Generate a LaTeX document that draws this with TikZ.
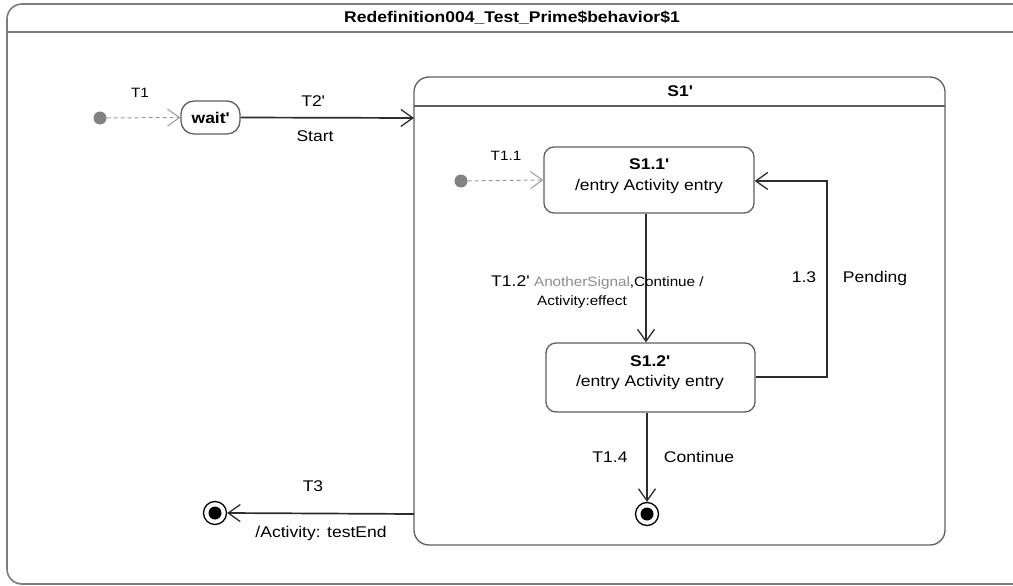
\documentclass[tikz,border=0pt]{standalone}
\usepackage{fontspec}
\setmainfont{Liberation Sans}[FakeStretch=1.13]
\usetikzlibrary{arrows.meta}
\definecolor{framec}{RGB}{125,125,125}
\definecolor{statec}{RGB}{95,95,95}
\definecolor{linec}{RGB}{45,45,45}
\definecolor{dashc}{RGB}{155,155,155}
\definecolor{dotc}{RGB}{130,130,130}
\definecolor{sigc}{RGB}{140,140,140}
\newcommand{\q}{\textquotesingle}
\tikzset{
  lbl/.style={font=\fontsize{15.5}{17}\selectfont, inner sep=0pt},
  blbl/.style={font=\bfseries\fontsize{15.5}{17}\selectfont, inner sep=0pt},
  slbl/.style={font=\fontsize{13.5}{15}\selectfont, inner sep=0pt},
  stbox/.style={draw=statec, line width=1.3pt, rounded corners=10pt, fill=white},
  trans/.style={draw=linec, line width=1.7pt, -{Straight Barb[length=12pt,width=17pt,line width=1.3pt]}},
  initarr/.style={draw=dashc, line width=1pt, dash pattern=on 4pt off 3pt, -{Straight Barb[length=12pt,width=17pt,line width=1pt,color=dashc]}},
  initdot/.style={circle, fill=dotc, minimum size=13pt, inner sep=0pt},
}
\begin{document}
\begin{tikzpicture}[x=1pt,y=-1pt]
\useasboundingbox (0,0) rectangle (1013,586);
% outer frame
\coordinate (fTR) at (1016,4);
\coordinate (fBR) at (1016,584);
\draw[framec, line width=1.6pt, rounded corners=15pt] (fTR) -- (7,4) -- (7,584) -- (fBR);
\draw[framec, line width=1.6pt] (7,32) -- (1016,32);
\node[blbl] (title) at (512,18) {Redefinition004\_Test\_Prime\$behavior\$1};
% S1' composite
\draw[statec, line width=1.3pt, rounded corners=15pt] (414,77) rectangle (945,545);
\coordinate (S1W) at (414,118);
\coordinate (S1Wb) at (414,514);
\coordinate (S1NW) at (414,106);
\coordinate (S1NE) at (945,106);
\draw[statec, line width=1.3pt] (S1NW) -- (S1NE);
\node[blbl] (s1title) at (680,91) {S1\q};
% top level
\node[initdot] (i1) at (100,118) {};
\node[stbox, minimum width=59pt, minimum height=33pt, inner sep=0pt, rounded corners=13pt, font=\bfseries\fontsize{15.5}{17}\selectfont] (wait) at (210.5,117.5) {wait\q};
\draw[initarr] (i1) -- (wait.west);
\node[slbl] (t1) at (140,93) {T1};
\draw[trans] (wait.east) -- (S1W);
\node[lbl] (t2) at (313,101) {T2\q};
\node[lbl] (start) at (315,136) {Start};
% inner states
\node[stbox, minimum width=210pt, minimum height=66pt, inner sep=0pt] (s11) at (649,180) {};
\node[blbl] (s11n) at (649,164) {S1.1\q};
\node[lbl] (s11e) at (649,186) {/entry Activity entry};
\node[stbox, minimum width=209pt, minimum height=69pt, inner sep=0pt] (s12) at (650.5,377.5) {};
\node[blbl] (s12n) at (650,361) {S1.2\q};
\node[lbl] (s12e) at (650,382) {/entry Activity entry};
\node[initdot] (i2) at (461,181) {};
\draw[initarr] (i2) -- (s11.west);
\node[slbl] (t11) at (506,156) {T1.1};
% T1.2'
\draw[trans] (s11.south -| 646,0) -- (s12.north -| 646,0);
\node[lbl, anchor=base west] (t12) at (491,286) {T1.2\q\ {\fontsize{13.5}{15}\selectfont\textcolor{sigc}{AnotherSignal},Continue /}};
\node[slbl, anchor=base west] (t12b) at (537,305) {Activity:effect};
% Pending
\coordinate (pa) at (827,377);
\coordinate (pb) at (827,181);
\draw[trans] (s12.east |- pa) -- (pa) -- (pb) -- (s11.east |- pb);
\node[lbl] (t13) at (804,277) {1.3};
\node[lbl] (pend) at (875,278) {Pending};
% T1.4 final
\node[circle, draw=black, line width=1.3pt, minimum size=23pt, inner sep=0pt] (f1) at (647,514) {};
\fill[black] (f1.center) circle (6.5pt);
\draw[trans] (s12.south -| 647,0) -- (f1.north);
\node[lbl] (t14) at (610,457) {T1.4};
\node[lbl] (cont) at (699,457) {Continue};
% T3 final
\node[circle, draw=black, line width=1.3pt, minimum size=23pt, inner sep=0pt] (f2) at (215,513) {};
\fill[black] (f2.center) circle (6.5pt);
\draw[trans] (S1Wb) -- (f2.east);
\node[lbl] (t3) at (313,486) {T3};
\node[lbl] (tend) at (321,533) {/Activity: testEnd};
\end{tikzpicture}
\end{document}
